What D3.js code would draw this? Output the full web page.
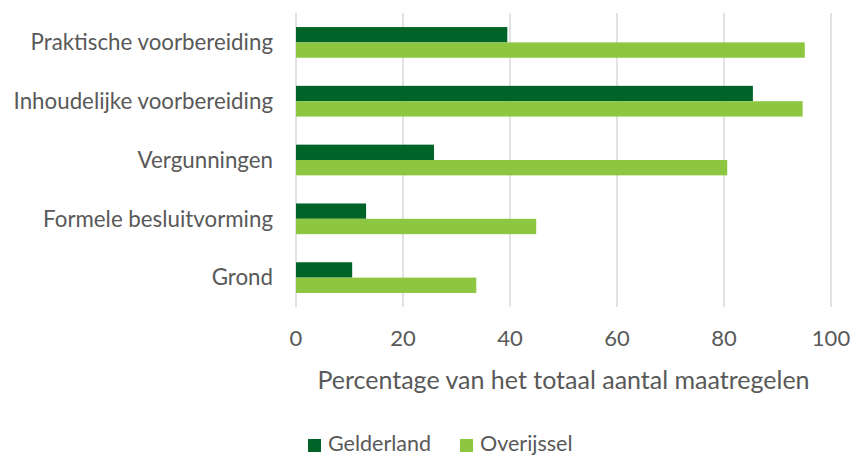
<!DOCTYPE html>
<html>
<head>
<meta charset="utf-8">
<script src="https://cdn.jsdelivr.net/npm/d3@7"></script>
<style>
  body { margin: 0; background: #fff; }
  text { font-family: Lato, "Open Sans", sans-serif; fill: #595959; }
</style>
</head>
<body>
<svg id="chart" width="850" height="456"></svg>
<script>
const categories = ['Praktische voorbereiding', 'Inhoudelijke voorbereiding', 'Vergunningen', 'Formele besluitvorming', 'Grond'];
const series = ['Gelderland', 'Overijssel'];
const gelderland = [39.5, 85.4, 25.8, 13.1, 10.5];
const overijssel = [95.1, 94.7, 80.6, 44.9, 33.7];
const xTicks = [0, 20, 40, 60, 80, 100];
const colors = ['#006428', '#8dc641'];

const svg = d3.select('#chart');
const margin = { top: 13, left: 296, right: 19, bottom: 149 };
const w = 850, h = 456;

const x = d3.scaleLinear().domain([0, 100]).range([margin.left, w - margin.right]);
const y = d3.scaleBand().domain(categories).range([margin.top, h - margin.bottom]);
const barH = y.bandwidth() * 0.261;

// gridlines
svg.append('g').selectAll('line').data(xTicks).join('line')
  .attr('x1', d => x(d)).attr('x2', d => x(d))
  .attr('y1', margin.top).attr('y2', h - margin.bottom)
  .attr('stroke', '#d9d9d9').attr('stroke-width', 1.5);

const rows = categories.map((c, i) => ({ c, vals: [gelderland[i], overijssel[i]] }));

const groups = svg.append('g').selectAll('g').data(rows).join('g')
  .attr('transform', d => `translate(0, ${y(d.c) + y.bandwidth() / 2 - barH})`);

groups.selectAll('rect').data(d => d.vals).join('rect')
  .attr('x', x(0))
  .attr('y', (d, i) => i * barH)
  .attr('width', d => x(d) - x(0))
  .attr('height', barH)
  .attr('fill', (d, i) => colors[i]);

// y labels
svg.append('g').selectAll('text').data(categories).join('text')
  .attr('x', 273)
  .attr('y', d => y(d) + y.bandwidth() / 2)
  .attr('dy', '0.35em')
  .attr('text-anchor', 'end')
  .attr('font-size', 22.3)
  .text(d => d);

// x tick labels
svg.append('g').selectAll('text').data(xTicks).join('text')
  .attr('x', d => x(d))
  .attr('y', 346)
  .attr('text-anchor', 'middle')
  .attr('font-size', 22)
  .text(d => d);

svg.append('text')
  .attr('x', (x(0) + x(100)) / 2)
  .attr('y', 389)
  .attr('text-anchor', 'middle')
  .attr('font-size', 25)
  .text('Percentage van het totaal aantal maatregelen');

// legend
const legendX = [308, 460];
const legend = svg.append('g').selectAll('g').data(series).join('g')
  .attr('transform', (d, i) => `translate(${legendX[i]}, 439)`);
legend.append('rect').attr('width', 13).attr('height', 13).attr('fill', (d, i) => colors[i]);
legend.append('text').attr('x', 20).attr('y', 12).attr('font-size', 21.5).text(d => d);
</script>
</body>
</html>
